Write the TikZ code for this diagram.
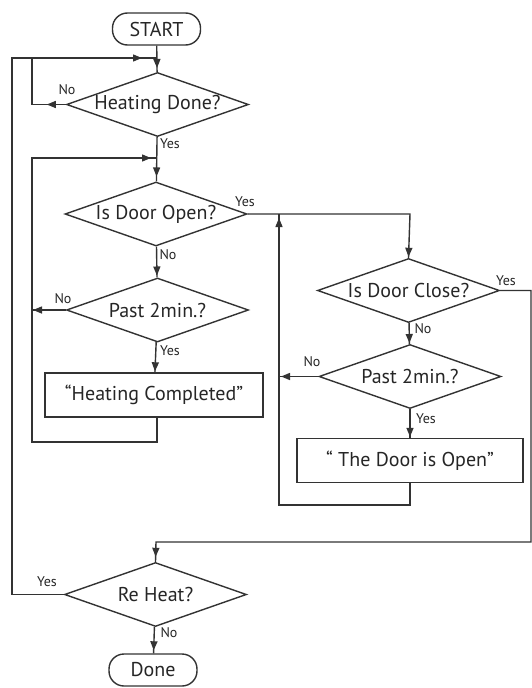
\documentclass[tikz,border=0pt]{standalone}
\usepackage{fontspec}
\setmainfont{PT Sans}
\usetikzlibrary{shapes.geometric,arrows.meta,decorations.markings}
\definecolor{inkgray}{HTML}{333333}
\tikzset{
  line/.style={draw=inkgray, line width=1.4pt},
  tipat/.style={postaction={decorate},
    decoration={markings, mark=at position #1 with {\arrow{Triangle[length=9pt,width=7pt]}}}},
  decision/.style={diamond, line, minimum width=182pt, minimum height=64pt,
    inner sep=0pt, aspect=2.8, font=\fontsize{20}{22}\selectfont, text=black!85},
  process/.style={rectangle, line, minimum height=44pt, inner sep=0pt,
    font=\fontsize{20}{22}\selectfont, text=black!85},
  terminal/.style={rectangle, rounded corners=15pt, line, minimum width=88pt,
    minimum height=32pt, inner sep=0pt, font=\fontsize{20}{22}\selectfont, text=black!85},
  lbl/.style={font=\fontsize{14}{15}\selectfont, text=black!85, inner sep=0pt}
}
\begin{document}
\begin{tikzpicture}[x=1pt,y=-1pt]
  \useasboundingbox[fill=white] (0,0) rectangle (532,688);
  % left column
  \node[terminal] (start) at (156.5,29) {START};
  \node[decision] (hd) at (157.5,104.5) {Heating Done?};
  \node[decision] (ido) at (156,214) {Is Door Open?};
  \node[decision] (pl) at (157.5,310) {Past 2min.?};
  \node[process, minimum width=218pt] (hc) at (154,395) {“Heating Completed”};
  % right column
  \node[decision] (idc) at (408.5,290.5) {Is Door Close?};
  \node[decision] (pr) at (410,376.5) {Past 2min.?};
  \node[process, minimum width=226pt] (dbox) at (410,460.5) {“ The Door is Open”};
  % bottom
  \node[decision] (rh) at (155.5,594.5) {Re Heat?};
  \node[terminal] (done) at (153,670) {Done};
  \coordinate (j1) at (157,58);
  \coordinate (j2) at (157,158);
  % connectors
  \draw[line, tipat=-4pt] (start) -- (hd);
  \draw[line, tipat=19pt] (hd.west) -- (32,104.5) |- (j1);
  \draw[line, tipat=-15pt] (rh.west) -- (12,594.5) |- (j1);
  \draw[line, tipat=-5pt] (hd) -- (ido);
  \draw[line, tipat=-2pt] (ido) -- (pl);
  \draw[line, tipat=-1pt] (pl.west) -- (32,310);
  \draw[line, tipat=-1pt] (pl) -- (hc);
  \draw[line, tipat=-6pt] (j2 |- hc.south) -- (157,442) -| (32,300) |- (j2);
  \draw[line, tipat=-1pt] (ido.east) -- (410,214) -- (idc.north);
  \draw[line, tipat=-1pt] (idc) -- (pr);
  \draw[line, tipat=-2pt] (pr.west) -- (279,376.5);
  \draw[line, tipat=-1pt] (pr) -- (dbox);
  \draw[line, tipat=-4pt] (dbox.south) -- (410,505) -| (279,214);
  \draw[line, tipat=-5pt] (idc.east) -- (531,290.5) |- (156,542) -- (rh.north);
  \draw[line, tipat=-3pt] (rh) -- (done);
  % labels
  \node[lbl] (l1) at (67,90) {No};
  \node[lbl] (l2) at (170,144) {Yes};
  \node[lbl] (l3) at (245,202) {Yes};
  \node[lbl] (l4) at (168,255) {No};
  \node[lbl] (l5) at (63,299) {No};
  \node[lbl] (l6) at (170,351) {Yes};
  \node[lbl] (l7) at (506,281) {Yes};
  \node[lbl] (l8) at (423,329) {No};
  \node[lbl] (l9) at (312,362) {No};
  \node[lbl] (l10) at (426,419) {Yes};
  \node[lbl] (l11) at (47,582) {Yes};
  \node[lbl] (l12) at (169,633) {No};
\end{tikzpicture}
\end{document}
